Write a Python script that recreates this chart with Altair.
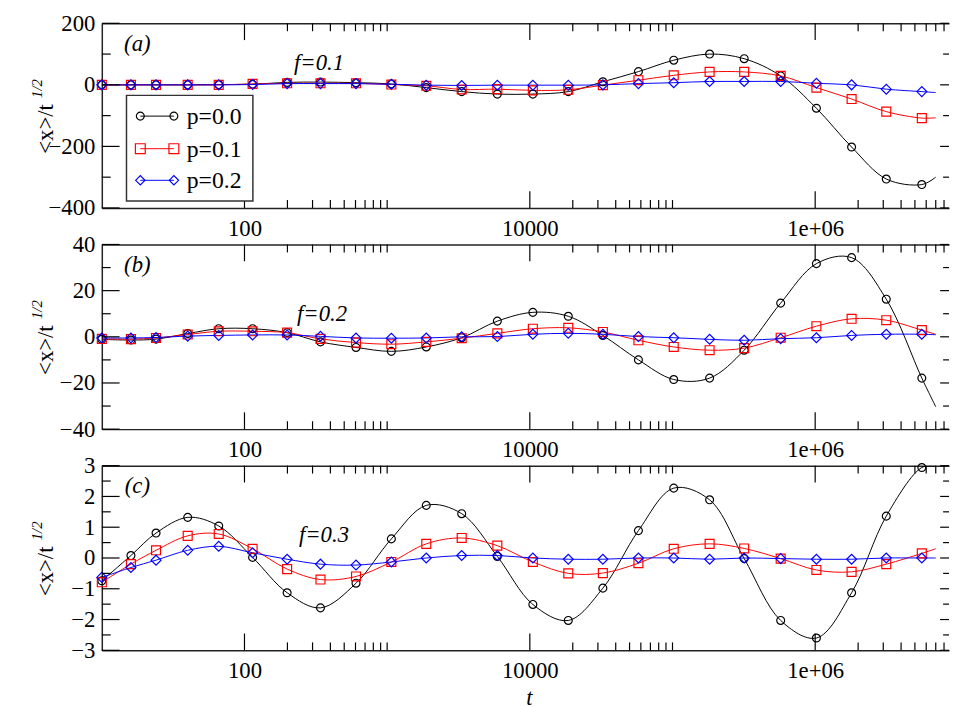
import altair as alt
import pandas as pd

# ---------------- data ----------------
NAMES = ["p=0.0", "p=0.1", "p=0.2"]
COLORS = ["#000000", "#ff0000", "#0000ff"]
SHAPES = ["circle", "square", "diamond"]
SIZES = [64, 100, 90]

# marker times t
T = [10, 16, 24, 40, 66, 114, 199, 341, 605, 1070, 1880, 3330, 5920,
     10500, 18600, 32500, 57700, 102000, 182000, 318000, 573000,
     1020000, 1800000, 3150000, 5590000]
T_END = 7.0e6  # last point of the curves (no marker)

# panel (a), f=0.1
A_P00 = [0, 0, 0, 0, 1, 2, 8, 9, 7, 3, -9, -22, -30, -30, -22, 10, 43, 80, 100, 85, 29, -76, -202, -306, -324]
A_P01 = [0, 0, 0, 0, 0, 3, 5, 5, 5, 1, -3, -15, -14, -18, -16, -1, 15, 31, 42, 42, 29, -9, -46, -87, -108]
A_P02 = [0, 0, 0, 0, 0, 1, 4, 4, 4, 2, -1, -2, -1, -1, -1, 0, 4, 7, 11, 11, 11, 5, 0, -14, -22]
A_END = [-300, -107, -25]

# panel (b), f=0.2
B_P00 = [-1.1, -1.4, -1.0, 1.4, 3.5, 3.5, 1.8, -2.2, -4.6, -6.3, -4.4, -0.4, 6.8,
         10.6, 8.9, 0.6, -10.0, -18.5, -17.9, -5.8, 14.6, 31.7, 34.3, 16.3, -17.9]
B_P01 = [-0.9, -1.0, -0.5, 1.0, 2.4, 2.4, 1.8, -0.9, -2.5, -3.2, -2.2, -0.6, 1.5,
         3.5, 3.9, 2.1, -1.5, -4.4, -5.8, -4.9, -0.4, 4.6, 7.8, 7.2, 2.9]
B_P02 = [-0.5, -0.5, -0.3, 0.3, 0.6, 0.8, 0.8, 0.2, -0.5, -0.6, -0.5, 0.0, 0.1,
         1.1, 1.5, 1.1, 0.1, -0.4, -1.1, -1.5, -0.8, -0.4, 0.6, 1.1, 1.1]
B_END = [-30.3, 1.1, 0.9]

# panel (c), f=0.3
C_P00 = [-0.74, 0.08, 0.81, 1.32, 1.04, 0.02, -1.13, -1.62, -0.82, 0.62, 1.71, 1.44, 0.05,
         -1.51, -2.03, -0.98, 0.89, 2.27, 1.89, -0.02, -2.03, -2.60, -1.13, 1.36, 2.94]
C_P01 = [-0.79, -0.20, 0.25, 0.72, 0.78, 0.30, -0.36, -0.70, -0.60, -0.13, 0.46, 0.65, 0.40,
         -0.13, -0.50, -0.49, -0.17, 0.30, 0.46, 0.31, -0.02, -0.39, -0.45, -0.20, 0.15]
C_P02 = [-0.63, -0.31, -0.07, 0.25, 0.38, 0.17, -0.04, -0.20, -0.23, -0.13, 0.00, 0.08, 0.08,
         0.00, -0.04, -0.04, 0.00, 0.00, -0.04, 0.00, -0.02, -0.04, -0.04, 0.00, 0.00]
C_END = [2.98, 0.30, 0.00]

# axis ticks
X_LABELS = [100, 10000, 1000000]
X_MINOR = [200, 300, 400, 500, 600, 700, 800, 900, 1000,
           20000, 30000, 40000, 50000, 60000, 70000, 80000, 90000, 100000,
           2000000, 3000000, 4000000, 5000000, 6000000, 7000000, 8000000]

A_YMAJOR = [-400, -200, 0, 200]
A_YMINOR = [-300, -100, 100]
B_YMAJOR = [-40, -20, 0, 20, 40]
B_YMINOR = [-30, -10, 10, 30]
C_YMAJOR = [-3, -2, -1, 0, 1, 2, 3]
C_YMINOR = [-2.5, -1.5, -0.5, 0.5, 1.5, 2.5]

# ---------------- layout ----------------
W = 858
H = 187
XMAX = 8.67e6
SERIF = "Liberation Serif, Times New Roman, DejaVu Serif, serif"
FS = 23


def panel(vals, ends, ydom, ymaj, ymin, tag, ftext, fpos, legend=False, xtitle=False):
    rows, lrows = [], []
    for name, v, e in zip(NAMES, vals, ends):
        for t, y in zip(T, v):
            rows.append({"t": t, "v": y, "p": name})
            lrows.append({"t": t, "v": y, "p": name})
        lrows.append({"t": T_END, "v": e, "p": name})
    pts = pd.DataFrame(rows)
    lns = pd.DataFrame(lrows)

    xs = alt.Scale(type="log", domain=[10, XMAX], nice=False)
    ys = alt.Scale(domain=ydom, nice=False, zero=False)
    color = alt.Color("p:N", scale=alt.Scale(domain=NAMES, range=COLORS), legend=None)

    xaxis = alt.Axis(orient="bottom", values=X_LABELS, ticks=False, grid=False, title=None,
                     labelExpr="datum.value == 1000000 ? '1e+06' : format(datum.value, 'd')",
                     labelPadding=10, labelFlush=False, labelOverlap=False)
    yaxis = alt.Axis(orient="left", values=ymaj, ticks=False, grid=False, title=None,
                     labelPadding=7, labelFlush=False, labelOverlap=False, format="d")

    line = alt.Chart(lns).mark_line(interpolate="catmull-rom", strokeWidth=1, clip=True).encode(
        x=alt.X("t:Q", scale=xs, axis=xaxis),
        y=alt.Y("v:Q", scale=ys, axis=yaxis),
        color=color,
        detail="p:N",
    )
    points = alt.Chart(pts).mark_point(filled=False, strokeWidth=1.2, opacity=1).encode(
        x=alt.X("t:Q", scale=xs, axis=None),
        y=alt.Y("v:Q", scale=ys, axis=None),
        color=color,
        shape=alt.Shape("p:N", scale=alt.Scale(domain=NAMES, range=SHAPES), legend=None),
        size=alt.Size("p:N", scale=alt.Scale(domain=NAMES, range=SIZES), legend=None),
    )

    xmaj = pd.DataFrame({"t": X_LABELS})
    xmin = pd.DataFrame({"t": X_MINOR})
    ymajdf = pd.DataFrame({"v": ymaj})
    ymindf = pd.DataFrame({"v": ymin})

    def xt(df, y0, y1, top_axis=False):
        ax = alt.Axis(orient="top", labels=False, ticks=False, grid=False, title=None, domain=True) if top_axis else None
        return alt.Chart(df).mark_rule(color="black", strokeWidth=1.2).encode(
            x=alt.X("t:Q", scale=xs, axis=ax), y=alt.value(y0), y2=alt.value(y1))

    def yt(df, x0, x1):
        return alt.Chart(df).mark_rule(color="black", strokeWidth=1.2).encode(
            y=alt.Y("v:Q", scale=ys, axis=None), x=alt.value(x0), x2=alt.value(x1))

    ticks = [
        xt(xmaj, 0, 17, top_axis=True), xt(xmin, 0, 8),
        xt(xmaj, H, H - 17), xt(xmin, H, H - 8),
        yt(ymajdf, 0, 18), yt(ymindf, 0, 9),
        yt(ymajdf, W - 9, W), yt(ymindf, W - 6, W),
    ]

    def txt(s, x, y, size=FS, style="italic", angle=0, align="center", baseline="middle"):
        return alt.Chart(pd.DataFrame({"s": [s]})).mark_text(
            font=SERIF, fontSize=size, fontStyle=style, angle=angle, align=align,
            baseline=baseline, color="black").encode(
            text="s:N", x=alt.value(x), y=alt.value(y))

    texts = [
        txt(tag, 36, 21),
        txt(ftext, fpos[0], fpos[1]),
        txt("<x>/t", -56, 107, size=FS, style="normal", angle=270),
        txt("1/2", -66, 66, size=15, style="italic", angle=270),
    ]
    if xtitle:
        texts.append(txt("t", 433, H + 55, size=FS, baseline="alphabetic"))

    layers = [line, points] + ticks + texts

    if legend:
        box = alt.Chart(pd.DataFrame({"a": [0]})).mark_rect(
            fill="white", stroke="#333333", strokeWidth=1.5).encode(
            x=alt.value(25), x2=alt.value(153), y=alt.value(73), y2=alt.value(180))
        layers.append(box)
        ly = [94, 127, 159]
        for i, name in enumerate(NAMES):
            layers.append(alt.Chart(pd.DataFrame({"a": [0]})).mark_rule(
                color=COLORS[i], strokeWidth=1).encode(
                x=alt.value(39), x2=alt.value(73), y=alt.value(ly[i])))
            for mx in (39, 73):
                layers.append(alt.Chart(pd.DataFrame({"a": [0]})).mark_point(
                    shape=SHAPES[i], size=SIZES[i], filled=False, color=COLORS[i],
                    strokeWidth=1.2, opacity=1).encode(
                    x=alt.value(mx), y=alt.value(ly[i])))
            layers.append(txt(name, 86, ly[i] + 1, size=24, style="normal", align="left"))

    return alt.layer(*layers).resolve_axis(x="independent", y="independent").properties(
        width=W, height=H)


pa = panel([A_P00, A_P01, A_P02], A_END, [-400, 200], A_YMAJOR, A_YMINOR,
           "(a)", "f=0.1", (220, 40), legend=True)
pb = panel([B_P00, B_P01, B_P02], B_END, [-40, 40], B_YMAJOR, B_YMINOR,
           "(b)", "f=0.2", (223, 70))
pc = panel([C_P00, C_P01, C_P02], C_END, [-3, 3], C_YMAJOR, C_YMINOR,
           "(c)", "f=0.3", (225, 70), xtitle=True)

chart = alt.vconcat(pa, pb, pc, spacing=37, bounds="flush").properties(
    padding={"left": 22, "top": 0, "right": 0, "bottom": 0},
    background="white",
).configure_view(stroke=None).configure_axis(
    labelFont=SERIF, labelFontSize=FS, labelColor="black",
    domainColor="#222222", domainWidth=1.5,
)

chart.save("out.html", embed_options={"renderer": "svg", "actions": False})
